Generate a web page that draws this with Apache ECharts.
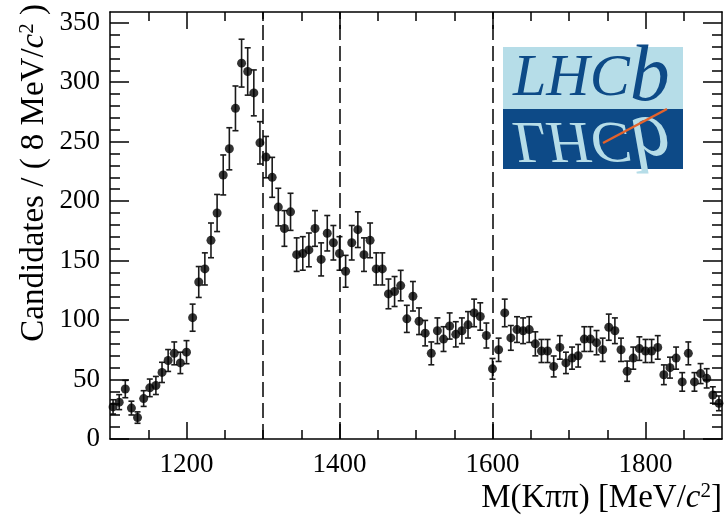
<!DOCTYPE html>
<html>
<head>
<meta charset="utf-8">
<script src="https://cdn.jsdelivr.net/npm/echarts@6/dist/echarts.min.js"></script>
<style>html,body{margin:0;padding:0;background:#fff}#c{width:725px;height:518px}</style>
</head>
<body>
<div id="c"></div>
<script>
// Bin centres (8 MeV bins)
const massBins = [1104,1112,1120,1128,1136,1144,1152,1160,1168,1176,1184,1192,1200,1208,1216,1224,1232,1240,1248,1256,1264,1272,1280,1288,1296,1304,1312,1320,1328,1336,1344,1352,1360,1368,1376,1384,1392,1400,1408,1416,1424,1432,1440,1448,1456,1464,1472,1480,1488,1496,1504,1512,1520,1528,1536,1544,1552,1560,1568,1576,1584,1592,1600,1608,1616,1624,1632,1640,1648,1656,1664,1672,1680,1688,1696,1704,1712,1720,1728,1736,1744,1752,1760,1768,1776,1784,1792,1800,1808,1816,1824,1832,1840,1848,1856,1864,1872,1880,1888,1896];
// Candidates per bin
const candidates = [27,31,42,26,18,34,43,45,56,66,72,64,73,102,132,143,167,190,222,244,278,316,309,291,249,237,220,195,177,191,155,156,159,177,151,173,165,156,141,165,176,155,167,143,143,122,124,129,101,120,99,89,72,91,84,95,88,91,96,106,103,87,59,75,106,85,92,91,92,80,74,74,61,77,64,68,70,84,84,81,75,94,91,75,57,68,76,74,74,77,54,60,68,48,72,48,55,51,37,30];
// Uncertainties per bin
const errors = [6,6.3,7.3,5.8,4.8,6.6,7.4,7.6,8.5,9.2,9.6,9,9.7,11.4,13,13.5,14.6,15.6,16.8,17.7,18.8,20.1,19.9,19.3,17.8,17.4,16.8,15.8,15,15.6,14.1,14.1,14.2,15,13.9,14.9,14.5,14.1,13.4,14.5,15,14.1,14.6,13.5,13.5,12.5,12.6,12.8,11.4,12.4,11.2,10.7,9.6,10.8,10.4,11,10.6,10.8,11.1,11.6,11.5,10.5,8.7,9.8,11.6,10.4,10.8,10.8,10.8,10.1,9.7,9.7,8.8,9.9,9,9.3,9.5,10.4,10.4,10.2,9.8,11,10.8,9.8,8.5,9.3,9.9,9.7,9.7,9.9,8.3,8.8,9.3,7.8,9.6,7.8,8.4,8.1,6.9,6.2];
// Axis ranges and tick values
const X_MIN = 1100, X_MAX = 1900, Y_MIN = 0, Y_MAX = 359;
const xTickLabels = [1200, 1400, 1600, 1800];
const xMinorTicks = [1150, 1250, 1300, 1350, 1450, 1500, 1550, 1650, 1700, 1750, 1850];
const yTickLabels = [0, 50, 100, 150, 200, 250, 300, 350];
const yMinorTicks = [10,20,30,40,60,70,80,90,110,120,130,140,160,170,180,190,210,220,230,240,260,270,280,290,310,320,330,340];
// Vertical dashed lines
const dashedLines = [1300, 1400, 1600];

const FONT = '"Liberation Serif", "DejaVu Serif", serif';
const GRID = { left: 110, right: 3, top: 12, bottom: 79 };
const W = 725, H = 518;

const pts = massBins.map((m, i) => [m, candidates[i]]);
const bars = massBins.map((m, i) => [m, candidates[i] - errors[i], candidates[i] + errors[i]]);

// Inward frame ticks drawn as short mark-line segments through the axis scales
const xPerPx = (X_MAX - X_MIN) / (W - GRID.left - GRID.right);
const yPerPx = (Y_MAX - Y_MIN) / (H - GRID.top - GRID.bottom);
const solid = { type: 'solid', color: '#000', width: 1.5 };
const tickSegs = [];
function xTick(v, px) {
  const d = px * yPerPx;
  tickSegs.push([{ coord: [v, Y_MIN], lineStyle: solid }, { coord: [v, Y_MIN + d] }]);
  tickSegs.push([{ coord: [v, Y_MAX], lineStyle: solid }, { coord: [v, Y_MAX - d] }]);
}
function yTick(v, px) {
  const d = px * xPerPx;
  tickSegs.push([{ coord: [X_MIN, v], lineStyle: solid }, { coord: [X_MIN + d, v] }]);
  tickSegs.push([{ coord: [X_MAX, v], lineStyle: solid }, { coord: [X_MAX - d, v] }]);
}
xTickLabels.forEach(v => xTick(v, 17));
xMinorTicks.forEach(v => xTick(v, 9));
yTickLabels.forEach(v => yTick(v, 19));
yMinorTicks.forEach(v => yTick(v, 10));
const dashedSegs = dashedLines.map(v => ({ xAxis: v, lineStyle: { type: [15, 6], color: '#000', width: 1.5 } }));

const axisLine = { show: true, onZero: false, lineStyle: { color: '#000', width: 1.5 } };

function xAxisDef(pos, showLabels) {
  return {
    type: 'value', min: X_MIN, max: X_MAX, interval: 50, position: pos,
    axisLine,
    axisTick: { show: false },
    minorTick: { show: false },
    splitLine: { show: false },
    axisLabel: showLabels ? { show: true, color: '#000', fontFamily: FONT, fontSize: 27, margin: 12,
      customValues: xTickLabels, formatter: v => String(v) } : { show: false }
  };
}
function yAxisDef(pos, showLabels) {
  return {
    type: 'value', min: Y_MIN, max: Y_MAX, interval: 50, position: pos,
    axisLine,
    axisTick: { show: false },
    minorTick: { show: false },
    splitLine: { show: false },
    axisLabel: showLabels ? { show: true, color: '#000', fontFamily: FONT, fontSize: 27, margin: 10,
      formatter: v => (yTickLabels.indexOf(v) >= 0 ? String(v) : '') } : { show: false }
  };
}

const chart = echarts.init(document.getElementById('c'), null, { renderer: 'canvas' });
chart.setOption({
  animation: false,
  backgroundColor: '#fff',
  grid: Object.assign({ containLabel: false }, GRID),
  xAxis: [xAxisDef('bottom', true), xAxisDef('top', false)],
  yAxis: [yAxisDef('left', true), yAxisDef('right', false)],
  series: [
    {
      type: 'custom',
      xAxisIndex: 0, yAxisIndex: 0,
      data: bars,
      clip: true,
      z: 3,
      renderItem: function (params, api) {
        const x = api.value(0);
        const lo = api.coord([x, api.value(1)]);
        const hi = api.coord([x, api.value(2)]);
        const cap = 3;
        const st = { stroke: '#1a1a1a', lineWidth: 1.6 };
        return {
          type: 'group',
          children: [
            { type: 'line', shape: { x1: lo[0], y1: lo[1], x2: hi[0], y2: hi[1] }, style: st },
            { type: 'line', shape: { x1: lo[0] - cap, y1: lo[1], x2: lo[0] + cap, y2: lo[1] }, style: st },
            { type: 'line', shape: { x1: hi[0] - cap, y1: hi[1], x2: hi[0] + cap, y2: hi[1] }, style: st }
          ]
        };
      }
    },
    {
      type: 'scatter',
      xAxisIndex: 0, yAxisIndex: 0,
      data: pts,
      symbol: 'circle',
      symbolSize: 9,
      itemStyle: { color: '#000' },
      z: 4,
      markLine: {
        silent: true,
        animation: false,
        symbol: ['none', 'none'],
        label: { show: false },
        emphasis: { disabled: true },
        lineStyle: { color: '#000', type: 'solid', width: 1.5 },
        data: dashedSegs.concat(tickSegs)
      }
    }
  ],
  graphic: [
    // y-axis title
    {
      type: 'text', x: 34, y: 4, rotation: Math.PI / 2,
      style: {
        text: 'Candidates / ( 8 MeV/{i|c}{s|2} )',
        fontFamily: FONT, fontSize: 33, fill: '#000',
        align: 'right', verticalAlign: 'middle',
        rich: {
          i: { fontFamily: FONT, fontSize: 33, fontStyle: 'italic', fill: '#000' },
          s: { fontFamily: FONT, fontSize: 21, fill: '#000', padding: [0, 0, 14, 0] }
        }
      }
    },
    // x-axis title
    {
      type: 'text', x: 722, y: 498,
      style: {
        text: 'M(K\u03c0\u03c0) [MeV/{i|c}{s|2}]',
        fontFamily: FONT, fontSize: 33, fill: '#000',
        align: 'right', verticalAlign: 'middle',
        rich: {
          i: { fontFamily: FONT, fontSize: 33, fontStyle: 'italic', fill: '#000' },
          s: { fontFamily: FONT, fontSize: 21, fill: '#000', padding: [0, 0, 14, 0] }
        }
      }
    },
    // LHCb logo
    {
      type: 'group', x: 503, y: 47,
      children: [
        { type: 'rect', shape: { x: 0, y: 0, width: 180, height: 62 }, style: { fill: '#b6dde8' } },
        { type: 'rect', shape: { x: 0, y: 62, width: 180, height: 60 }, style: { fill: '#0d4a87' } },
        {
          type: 'text', x: 10, y: 72,
          style: {
            text: '{a|LHC}{b|b}', fill: '#0d4a87', verticalAlign: 'bottom', align: 'left',
            rich: {
              a: { fontFamily: FONT, fontStyle: 'italic', fontSize: 60, fill: '#0d4a87' },
              b: { fontFamily: FONT, fontStyle: 'italic', fontSize: 80, fill: '#0d4a87' }
            }
          }
        },
        {
          type: 'rect', shape: { x: 0, y: 62, width: 180, height: 30 }, style: { fill: '#0d4a87' }
        },
        {
          type: 'text', x: 10, y: 52, scaleY: -1,
          style: {
            text: '{a|LHC}{b|b}', fill: '#b6dde8', verticalAlign: 'bottom', align: 'left',
            rich: {
              a: { fontFamily: FONT, fontStyle: 'italic', fontSize: 60, fill: '#b6dde8' },
              b: { fontFamily: FONT, fontStyle: 'italic', fontSize: 80, fill: '#b6dde8' }
            }
          }
        },
        { type: 'line', shape: { x1: 100, y1: 96, x2: 164, y2: 62 }, style: { stroke: '#e4622b', lineWidth: 2.5 } }
      ]
    }
  ]
});
</script>
</body>
</html>
